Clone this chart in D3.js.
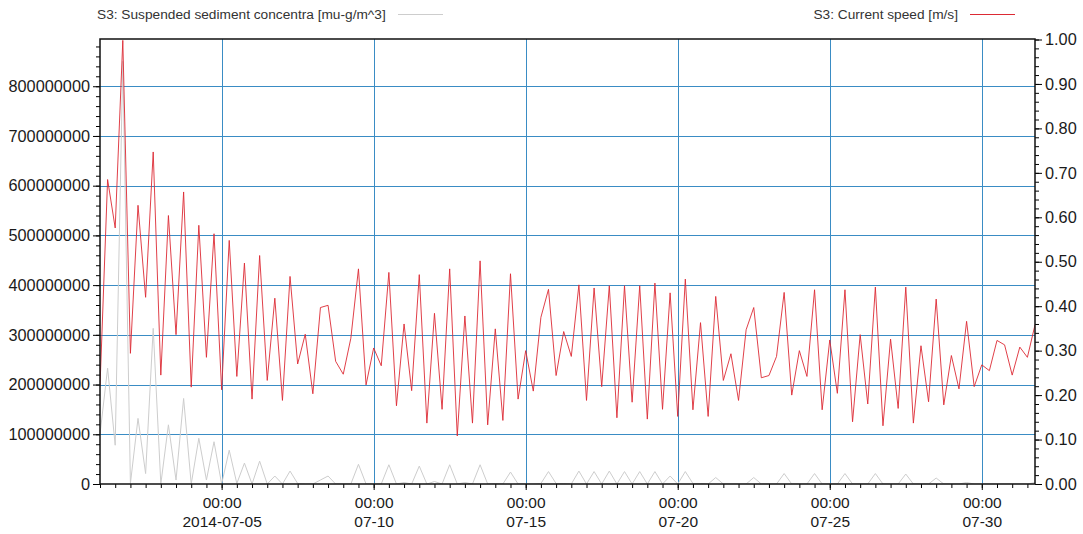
<!DOCTYPE html>
<html>
<head>
<meta charset="utf-8">
<script src="https://cdn.jsdelivr.net/npm/d3@7"></script>
<style>
  body { margin: 0; background: #fff; }
  svg { display: block; font-family: "Liberation Sans", Arial, sans-serif; }
  .tick text { fill: #1a1a1a; }
</style>
</head>
<body>
<svg id="chart" width="1083" height="534"></svg>
<script>
// time grid: one sample every 6 hours from 2014-07-01 00:00
const startTime = Date.UTC(2014, 6, 1, 0, 0);
const stepHours = 6;

// S3: Current speed [m/s]
const speed = [
  0.22, 0.685, 0.576, 0.998, 0.294, 0.627, 0.420, 0.747, 0.245, 0.604,
  0.336, 0.657, 0.218, 0.582, 0.285, 0.563, 0.212, 0.548, 0.242, 0.497,
  0.191, 0.514, 0.233, 0.418, 0.188, 0.467, 0.270, 0.337, 0.203, 0.397,
  0.402, 0.276, 0.247, 0.328, 0.484, 0.223, 0.306, 0.266, 0.476, 0.176,
  0.360, 0.210, 0.471, 0.137, 0.384, 0.168, 0.484, 0.108, 0.378, 0.137,
  0.502, 0.133, 0.349, 0.143, 0.473, 0.191, 0.300, 0.209, 0.375, 0.438,
  0.244, 0.343, 0.287, 0.448, 0.188, 0.441, 0.219, 0.446, 0.149, 0.446,
  0.184, 0.446, 0.146, 0.452, 0.168, 0.430, 0.152, 0.461, 0.167, 0.363,
  0.152, 0.422, 0.233, 0.293, 0.188, 0.347, 0.397, 0.239, 0.244, 0.287,
  0.431, 0.200, 0.300, 0.242, 0.437, 0.167, 0.324, 0.204, 0.437, 0.140,
  0.336, 0.180, 0.443, 0.131, 0.326, 0.170, 0.443, 0.137, 0.311, 0.185,
  0.416, 0.178, 0.289, 0.214, 0.366, 0.219, 0.268, 0.255, 0.323, 0.313,
  0.245, 0.308, 0.285, 0.358
];

// S3: Suspended sediment concentration [mu-g/m^3]
const sediment = [
  100e6, 233e6, 78e6, 850e6, 1e6, 132e6, 21e6, 313e6, 0, 119e6,
  8e6, 172e6, 0, 92e6, 8e6, 85e6, 0, 68e6, 1e6, 42e6,
  0, 46e6, 0, 16e6, 0, 26e6, 1e6, 0, 0, 8e6,
  16e6, 0, 0, 0, 39.6e6, 0, 0, 0, 38.7e6, 0,
  3e6, 0, 36e6, 0, 5e6, 0, 38.7e6, 0, 3e6, 0,
  38.7e6, 0, 1e6, 0, 24e6, 0, 0, 0, 1e6, 25e6,
  1e6, 1e6, 0, 26e6, 0, 25e6, 0, 26e6, 0, 25e6,
  0, 25e6, 0, 25e6, 0, 16e6, 0, 25e6, 1e6, 1e6,
  0, 13e6, 0, 0, 0, 0, 13e6, 0, 0, 0,
  21e6, 0, 0, 0, 21e6, 0, 0, 0, 21e6, 0,
  0, 0, 21e6, 0, 0, 0, 20e6, 0, 0, 0,
  12e6, 0, 0, 0, 3e6, 0, 0, 0, 0, 0,
  0, 0, 0, 3e6
];

// axis ticks
const xTickDates = ['2014-07-05', '2014-07-10', '2014-07-15', '2014-07-20', '2014-07-25', '2014-07-30'];
const leftTicks = [0, 100e6, 200e6, 300e6, 400e6, 500e6, 600e6, 700e6, 800e6];
const rightTicks = [0, 0.1, 0.2, 0.3, 0.4, 0.5, 0.6, 0.7, 0.8, 0.9, 1.0];

const legendSed = 'S3: Suspended sediment concentra [mu-g/m^3]';
const legendSpeed = 'S3: Current speed [m/s]';

let margin = { top: 39, right: 48, bottom: 50, left: 100 };
let width = 1083 - margin.left - margin.right;
let height = 534 - margin.top - margin.bottom;

let svg = d3.select('#chart');
let g = svg.append('g').attr('transform', 'translate(' + margin.left + ',' + margin.top + ')');

let times = speed.map((d, i) => new Date(startTime + i * stepHours * 3600e3));

let xScale = d3.scaleUtc()
  .domain([new Date(startTime), new Date(Date.UTC(2014, 6, 31, 18, 0))])
  .range([0, width]);
let yLeft = d3.scaleLinear().domain([0, 895e6]).range([height, 0]);
let yRight = d3.scaleLinear().domain([0, 1.0]).range([height, 0.5]);

let tickDates = xTickDates.map(s => new Date(s + 'T00:00:00Z'));

// grid
g.append('g').selectAll('line')
  .data(leftTicks.filter(d => d > 0))
  .enter().append('line')
  .attr('x1', 0).attr('x2', width)
  .attr('y1', d => Math.round(yLeft(d)) + 0.5).attr('y2', d => Math.round(yLeft(d)) + 0.5)
  .attr('stroke', '#3a8cc4').attr('stroke-width', 1);
g.append('g').selectAll('line')
  .data(tickDates)
  .enter().append('line')
  .attr('y1', 0).attr('y2', height)
  .attr('x1', d => Math.round(xScale(d)) + 0.5).attr('x2', d => Math.round(xScale(d)) + 0.5)
  .attr('stroke', '#3a8cc4').attr('stroke-width', 1);

// lines
let clip = g.append('clipPath').attr('id', 'clip')
  .append('rect').attr('width', width).attr('height', height);

let sedLine = d3.line().x((d, i) => xScale(times[i])).y(d => yLeft(d));
let speedLine = d3.line().x((d, i) => xScale(times[i])).y(d => yRight(d));

g.append('path')
  .datum(sediment)
  .attr('clip-path', 'url(#clip)')
  .attr('fill', 'none')
  .attr('stroke', '#cdcdcd')
  .attr('stroke-width', 1)
  .attr('d', sedLine);

g.append('path')
  .datum(speed)
  .attr('clip-path', 'url(#clip)')
  .attr('fill', 'none')
  .attr('stroke', '#dc2a34')
  .attr('stroke-width', 0.9)
  .attr('d', speedLine);

// axes
let xFont = '15.5px';
let yFont = '16.3px';

let xMinor = d3.axisBottom(xScale)
  .ticks(d3.utcHour.every(12))
  .tickSize(4).tickFormat('');
g.append('g').attr('transform', 'translate(0,' + height + ')').call(xMinor)
  .call(a => a.select('.domain').remove());

let xAxis = d3.axisBottom(xScale)
  .tickValues(tickDates)
  .tickSize(6).tickPadding(4)
  .tickFormat('');
let xg = g.append('g').attr('id', 'x-axis').attr('transform', 'translate(0,' + height + ')').call(xAxis);
xg.select('.domain').remove();
xg.selectAll('.tick').each(function(d, i) {
  let t = d3.select(this).append('text')
    .attr('fill', '#1a1a1a')
    .attr('text-anchor', 'middle')
    .style('font-size', xFont);
  t.append('tspan').attr('x', 0).attr('y', 24).text('00:00');
  t.append('tspan').attr('x', 0).attr('y', 43).text(i === 0 ? d3.utcFormat('%Y-%m-%d')(d) : d3.utcFormat('%m-%d')(d));
});

let leftMinor = d3.axisLeft(yLeft).tickValues(d3.range(0, 895e6, 20e6)).tickSize(4).tickFormat('');
g.append('g').call(leftMinor).call(a => a.select('.domain').remove());
let leftAxis = d3.axisLeft(yLeft).tickValues(leftTicks).tickSize(7).tickPadding(3).tickFormat(d3.format('d'));
g.append('g').attr('id', 'y-axis').call(leftAxis)
  .call(a => a.select('.domain').remove())
  .selectAll('text').style('font-size', yFont);

let rightMinor = d3.axisRight(yRight).tickValues(d3.range(0, 1.001, 0.02)).tickSize(4).tickFormat('');
g.append('g').attr('transform', 'translate(' + width + ',0)').call(rightMinor)
  .call(a => a.select('.domain').remove());
let rightAxis = d3.axisRight(yRight).tickValues(rightTicks).tickSize(7).tickPadding(3).tickFormat(d3.format('.2f'));
g.append('g').attr('transform', 'translate(' + width + ',0)').call(rightAxis)
  .call(a => a.select('.domain').remove())
  .selectAll('text').style('font-size', yFont);

// frame
g.append('rect')
  .attr('x', 0).attr('y', 0).attr('width', width).attr('height', height)
  .attr('fill', 'none').attr('stroke', '#111').attr('stroke-width', 1.5);

// legend
let legend = svg.append('g').attr('id', 'legend').style('font-size', '13.7px').attr('fill', '#333');
legend.append('text').attr('x', 97).attr('y', 19).text(legendSed);
legend.append('line').attr('x1', 398).attr('x2', 443).attr('y1', 14.5).attr('y2', 14.5)
  .attr('stroke', '#cdcdcd').attr('stroke-width', 1);
legend.append('text').attr('x', 958).attr('y', 19).attr('text-anchor', 'end').text(legendSpeed);
legend.append('line').attr('x1', 970).attr('x2', 1015).attr('y1', 14.5).attr('y2', 14.5)
  .attr('stroke', '#dc2a34').attr('stroke-width', 1);
</script>
</body>
</html>
